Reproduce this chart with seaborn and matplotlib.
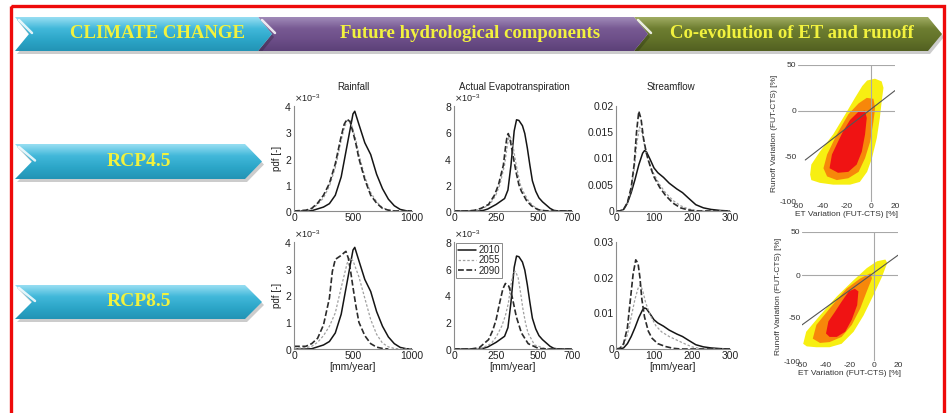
import numpy as np
import seaborn as sns
import matplotlib.pyplot as plt
from matplotlib.patches import Polygon, Rectangle
from matplotlib.colors import LinearSegmentedColormap
from matplotlib.ticker import FuncFormatter

W, H = 948, 413

# ---- pdf curves (x in mm/year, y = pdf) ----
# 2010 baseline is the same in both scenarios
rain_2010_x = [0, 100, 150, 200, 250, 300, 350, 400, 450, 475, 500, 515, 550, 600, 650, 700, 750, 800, 850, 900, 950, 1000]
rain_2010_y = [0, 0, 0.00001, 0.00008, 0.00015, 0.00028, 0.0006, 0.0013, 0.0025, 0.0031, 0.0037, 0.0038, 0.0033,
               0.0026, 0.00215, 0.0014, 0.00085, 0.00045, 0.0002, 0.00006, 0.00001, 0]
rain45_2055_x = [0, 100, 150, 200, 250, 300, 350, 400, 425, 450, 475, 500, 525, 550, 600, 650, 700, 750, 800, 850, 900, 1000]
rain45_2055_y = [0, 0.00002, 0.00008, 0.00025, 0.0005, 0.00095, 0.00165, 0.0027, 0.00315, 0.00345, 0.00345, 0.0031,
                 0.0027, 0.00215, 0.0013, 0.0007, 0.00035, 0.00012, 0.00004, 0.00001, 0, 0]
rain45_2090_x = [0, 100, 150, 200, 250, 300, 350, 400, 425, 450, 475, 500, 525, 550, 600, 650, 700, 750, 800, 850, 900, 1000]
rain45_2090_y = [0, 0.00003, 0.0001, 0.0003, 0.0006, 0.00105, 0.0018, 0.00285, 0.0033, 0.0035, 0.0034, 0.003,
                 0.00255, 0.002, 0.0012, 0.0006, 0.0003, 0.0001, 0.00003, 0, 0, 0]
rain85_2055_x = [0, 100, 150, 200, 250, 300, 350, 400, 450, 475, 500, 525, 550, 600, 650, 700, 750, 800, 850, 900, 1000]
rain85_2055_y = [0.00002, 0.00005, 0.0001, 0.00025, 0.0005, 0.00085, 0.00135, 0.0023, 0.0032, 0.0034, 0.0033, 0.003,
                 0.0027, 0.0019, 0.0011, 0.00055, 0.00022, 0.00008, 0.00002, 0, 0]
rain85_2090_x = [0, 50, 100, 150, 200, 250, 300, 325, 350, 400, 425, 440, 460, 480, 500, 525, 550, 600, 650, 700, 750, 800]
rain85_2090_y = [0.0001, 0.0001, 0.0001, 0.0002, 0.0004, 0.0009, 0.0019, 0.0029, 0.00335, 0.0035, 0.0036, 0.00365,
                 0.0034, 0.0029, 0.0023, 0.0016, 0.001, 0.0005, 0.0002, 0.00007, 0.00002, 0]

aet_2010_x = [0, 150, 175, 200, 250, 300, 320, 338, 357, 371, 385, 406, 420, 435, 450, 465, 485, 504, 525, 543, 570, 592, 620, 700]
aet_2010_y = [0, 0, 0.00005, 0.00015, 0.0005, 0.00095, 0.0016, 0.0035, 0.0061, 0.00695, 0.0069, 0.0065, 0.0059,
              0.0048, 0.0035, 0.0023, 0.0015, 0.001, 0.0007, 0.0005, 0.0002, 0.00005, 0, 0]
aet45_2055_x = [0, 90, 130, 170, 213, 248, 272, 300, 313, 323, 332, 342, 352, 365, 380, 394, 410, 440, 468, 505, 545, 600, 700]
aet45_2055_y = [0, 0, 0.00005, 0.0002, 0.0005, 0.0012, 0.002, 0.0035, 0.0047, 0.0055, 0.0057, 0.0054, 0.0048,
                0.0038, 0.0028, 0.002, 0.0015, 0.0008, 0.0004, 0.0001, 0.00002, 0, 0]
aet45_2090_x = [0, 80, 120, 160, 205, 240, 264, 293, 305, 315, 322, 332, 342, 356, 371, 385, 400, 430, 459, 498, 540, 600, 700]
aet45_2090_y = [0, 0, 0.00005, 0.0002, 0.0005, 0.0012, 0.002, 0.0035, 0.0048, 0.0057, 0.0059, 0.0055, 0.0048,
                0.0038, 0.0028, 0.002, 0.0015, 0.0008, 0.0004, 0.0001, 0.00002, 0, 0]
aet85_2055_x = [0, 100, 166, 220, 250, 283, 305, 322, 338, 351, 365, 381, 395, 410, 425, 439, 478, 537, 580, 700]
aet85_2055_y = [0, 0, 0.00007, 0.0004, 0.0009, 0.0017, 0.0025, 0.0034, 0.0048, 0.0057, 0.0058, 0.0053, 0.0042,
                0.0029, 0.0019, 0.0012, 0.0003, 0.00005, 0, 0]
aet85_2090_x = [0, 50, 100, 150, 205, 230, 250, 270, 290, 305, 325, 345, 370, 400, 440, 500, 550, 700]
aet85_2090_y = [0, 0, 0, 0.0001, 0.0007, 0.0014, 0.0022, 0.0034, 0.0045, 0.0049, 0.0047, 0.0039, 0.0024, 0.0012,
                0.0004, 0.00005, 0, 0]

flow_2010_x = [0, 10, 20, 30, 40, 50, 60, 70, 75, 80, 90, 100, 110, 125, 140, 160, 175, 190, 210, 230, 250, 275, 300]
flow_2010_y = [0, 0, 0.0003, 0.0015, 0.0035, 0.006, 0.0088, 0.011, 0.0115, 0.0113, 0.0098, 0.0082, 0.0073, 0.0064,
               0.0053, 0.0042, 0.0035, 0.0025, 0.0012, 0.0006, 0.0003, 0.0001, 0]
flow45_2055_x = [0, 10, 20, 30, 40, 48, 55, 62, 68, 75, 85, 100, 115, 130, 150, 170, 190, 210, 230, 300]
flow45_2055_y = [0, 0, 0.0003, 0.0015, 0.004, 0.008, 0.013, 0.016, 0.015, 0.0125, 0.0095, 0.007, 0.005, 0.0035,
                 0.002, 0.001, 0.0004, 0.0001, 0, 0]
flow45_2090_x = [0, 10, 20, 30, 40, 48, 54, 60, 66, 72, 80, 90, 100, 115, 130, 150, 170, 190, 210, 300]
flow45_2090_y = [0, 0, 0.0003, 0.0016, 0.0045, 0.009, 0.015, 0.019, 0.0175, 0.014, 0.011, 0.0085, 0.0065, 0.0045,
                 0.003, 0.0015, 0.0006, 0.0002, 0, 0]
flow85_2055_x = [0, 10, 20, 30, 40, 50, 58, 64, 70, 78, 90, 105, 120, 140, 160, 180, 200, 220, 240, 300]
flow85_2055_y = [0, 0.0002, 0.0012, 0.004, 0.009, 0.014, 0.017, 0.018, 0.0165, 0.013, 0.0095, 0.0065, 0.0048,
                 0.0035, 0.0025, 0.0015, 0.0006, 0.0002, 0, 0]
flow85_2090_x = [0, 10, 20, 30, 38, 45, 52, 58, 63, 68, 75, 85, 95, 110, 130, 150, 170, 300]
flow85_2090_y = [0, 0.0002, 0.0015, 0.006, 0.014, 0.021, 0.025, 0.024, 0.02, 0.014, 0.009, 0.005, 0.003, 0.0015,
                 0.0007, 0.0002, 0, 0]

years = ['2010', '2055', '2090']

# ---- ET / runoff density regions (contour outlines, %) ----
yellow45_et = [-50, -49, -42, -31, -21, -13, -7, -3, 3.5, 9, 10.5, 9, 7.5, 5, 1, -3, -9, -17, -31, -42, -49]
yellow45_ro = [-70, -59, -45, -26, -4, 14, 27, 33, 35, 32, 25, 10, -8, -30, -52, -67, -78, -81, -81, -79, -76]
orange45_et = [-39, -36, -28, -18.5, -10, -3.3, 2.2, 3.6, 2.2, -0.5, -4.7, -10, -18.5, -28, -36]
orange45_ro = [-63, -48, -26, -4, 8, 14, 13, 3, -12, -34, -52, -67, -74, -76, -72]
red45_et = [-34, -32, -27, -23, -17, -10, -4.7, -3.3, -4.7, -7.4, -11.6, -18.5, -27]
red45_ro = [-63, -48, -34, -23, -10, -1, 0, -8, -26, -45, -59, -67, -68]
trend45_et = [-54, 20]
trend45_ro = [-54, 22]

yellow85_et = [-59, -56.5, -45, -31, -17, -6, 2.5, 9.5, 11, 6.7, -0.3, -8.7, -17, -27, -37, -48, -56]
yellow85_ro = [-80, -66, -47, -25, -6, 8, 16, 18, 14, -2, -23, -47, -66, -80, -84, -84, -83]
orange85_et = [-51, -48, -37, -23, -11.5, -3, -1.7, -6, -11.5, -18.5, -27, -37, -45]
orange85_ro = [-74, -58, -39, -16, -4, 2, -4, -19, -39, -58, -72, -78, -79]
red85_et = [-40, -38, -32.6, -27, -21, -16, -13, -14, -18.5, -24, -31, -37]
red85_ro = [-68, -54, -43, -31, -19, -16, -19, -35, -52, -66, -72, -72]
trend85_et = [-60, 20]
trend85_ro = [-58, 23]

sns.set_theme(style="white")
plt.rcParams['font.family'] = ['Liberation Sans', 'DejaVu Sans']
plt.rcParams['axes.unicode_minus'] = False

fig = plt.figure(figsize=(W / 100, H / 100), dpi=100)


def add_px(x0, y0, x1, y1):
    # axes from pixel box (top-left origin)
    return fig.add_axes([x0 / W, 1 - y1 / H, (x1 - x0) / W, (y1 - y0) / H])


# background layer for banners / arrows / frame / titles
bg = add_px(0, 0, W, H)
bg.set_autoscale_on(False)
bg.set_xlim(0, W)
bg.set_ylim(H, 0)
bg.axis('off')


def chevron(x0, x1, y0, y1, d, colors, z):
    ym = (y0 + y1) / 2
    pts = [(x0, y0), (x1, y0), (x1 + d, ym), (x1, y1), (x0, y1), (x0 + d, ym)]
    bg.add_patch(Polygon([(x + 2, y + 3) for x, y in pts], closed=True, fc='black', ec='none', alpha=0.2,
                         zorder=z))
    poly = Polygon(pts, closed=True, fc='none', ec='none', zorder=z + 0.1)
    bg.add_patch(poly)
    cmap = LinearSegmentedColormap.from_list('grad', colors)
    grad = np.linspace(0, 1, 64).reshape(-1, 1)
    im = bg.imshow(grad, cmap=cmap, extent=(x0, x1 + d, y1, y0), aspect='auto', interpolation='bilinear',
                   zorder=z + 0.2)
    im.set_clip_path(poly)
    # glossy notch highlight
    bg.plot([x0 + 4, x0 + d + 3], [y0 + 3, ym - 1], color='white', lw=1.8, alpha=0.85, solid_capstyle='round',
            zorder=z + 0.3)


cyan = ['#97def2', '#42b8da', '#2ca6c8', '#2394b5']
purple = ['#a08ab8', '#785a93', '#6c4e88', '#5c4178']
olive = ['#a0ac62', '#6e7e31', '#627229', '#526021']

chevron(634, 928, 17, 51, 14, olive, 1)
chevron(258, 634, 17, 51, 14, purple, 2)
chevron(15, 258, 17, 51, 14, cyan, 3)

head_kw = dict(color='#f2f23e', fontsize=13.5, fontweight='bold', family='Liberation Serif', ha='center',
               va='center', zorder=10)
bg.text(158, 34, 'CLIMATE CHANGE', **head_kw)
bg.text(470, 34, 'Future hydrological components', **head_kw)
bg.text(792, 34, 'Co-evolution of ET and runoff', **head_kw)

chevron(15, 245, 144, 179, 17, cyan, 4)
chevron(15, 245, 285, 319, 17, cyan, 5)
bg.text(139, 161, 'RCP4.5', **{**head_kw, 'fontsize': 14})
bg.text(139, 301, 'RCP8.5', **{**head_kw, 'fontsize': 14})

bg.add_patch(Rectangle((11, 6), 933, 430, fill=False, ec='#ee0a0a', lw=2.4, zorder=9))

title_kw = dict(fontsize=7, color='#222222', ha='center', va='center')
bg.text(353, 87, 'Rainfall', **title_kw)
bg.text(514, 87, 'Actual Evapotranspiration', **title_kw)
bg.text(671, 87, 'Streamflow', **title_kw)

bg.set_xlim(0, W)
bg.set_ylim(H, 0)

styles = {
    '2010': dict(color='#151515', linewidth=1.1, linestyle='-'),
    '2055': dict(color='#a0a0a0', linewidth=0.9, linestyle=(0, (2, 1.5))),
    '2090': dict(color='#2b2b2b', linewidth=1.2, linestyle=(0, (3.5, 1.5))),
}


def pdf_axes(box, xlim, xticks, ylim, yticks, sci):
    ax = add_px(*box)
    ax.set_facecolor('none')
    ax.set_xlim(xlim)
    ax.set_ylim(ylim)
    ax.set_xticks(xticks)
    ax.set_yticks(yticks)
    for s in ['top', 'right']:
        ax.spines[s].set_visible(False)
    for s in ['left', 'bottom']:
        ax.spines[s].set_color('#8c8c8c')
        ax.spines[s].set_linewidth(0.8)
    ax.tick_params(length=0, labelsize=7.5, labelcolor='#222222', pad=1.5)
    if sci:
        ax.ticklabel_format(axis='y', style='sci', scilimits=(0, 0), useMathText=True)
        ax.yaxis.get_offset_text().set_fontsize(6.5)
        ax.yaxis.get_offset_text().set_color('#222222')
    else:
        ax.yaxis.set_major_formatter(FuncFormatter(lambda v, p: f'{v:g}'))
    ax.set_xlabel('')
    ax.set_ylabel('')
    return ax


def draw(ax, series, legend=False):
    for yr, (xs, ys) in zip(years, series):
        sns.lineplot(x=xs, y=ys, ax=ax, estimator=None, sort=False, label=yr if legend else None, **styles[yr])
    if ax.get_legend() is not None:
        ax.get_legend().remove()


rows = [
    dict(top=106, bot=211,
         rain=[(rain_2010_x, rain_2010_y), (rain45_2055_x, rain45_2055_y), (rain45_2090_x, rain45_2090_y)],
         aet=[(aet_2010_x, aet_2010_y), (aet45_2055_x, aet45_2055_y), (aet45_2090_x, aet45_2090_y)],
         flow=[(flow_2010_x, flow_2010_y), (flow45_2055_x, flow45_2055_y), (flow45_2090_x, flow45_2090_y)],
         flow_ylim=(0, 0.02), flow_yticks=[0, 0.005, 0.01, 0.015, 0.02]),
    dict(top=242, bot=349,
         rain=[(rain_2010_x, rain_2010_y), (rain85_2055_x, rain85_2055_y), (rain85_2090_x, rain85_2090_y)],
         aet=[(aet_2010_x, aet_2010_y), (aet85_2055_x, aet85_2055_y), (aet85_2090_x, aet85_2090_y)],
         flow=[(flow_2010_x, flow_2010_y), (flow85_2055_x, flow85_2055_y), (flow85_2090_x, flow85_2090_y)],
         flow_ylim=(0, 0.03), flow_yticks=[0, 0.01, 0.02, 0.03]),
]

for i, r in enumerate(rows):
    ax_r = pdf_axes((294, r['top'], 412, r['bot']), (0, 1000), [0, 500, 1000], (0, 0.004),
                    [0, 0.001, 0.002, 0.003, 0.004], True)
    draw(ax_r, r['rain'])
    ax_r.set_ylabel('pdf [-]', fontsize=7, labelpad=2, color='#222222')

    ax_a = pdf_axes((454, r['top'], 572, r['bot']), (0, 700), [0, 250, 500, 700], (0, 0.008),
                    [0, 0.002, 0.004, 0.006, 0.008], True)
    draw(ax_a, r['aet'], legend=(i == 1))

    ax_f = pdf_axes((616, r['top'], 730, r['bot']), (0, 300), [0, 100, 200, 300], r['flow_ylim'],
                    r['flow_yticks'], False)
    draw(ax_f, r['flow'])

    if i == 1:
        for ax in (ax_r, ax_a, ax_f):
            ax.set_xlabel('[mm/year]', fontsize=7.5, labelpad=0.5, color='#222222')
        leg = ax_a.legend(loc='upper left', bbox_to_anchor=(0.01, 1.0), fontsize=7, frameon=True, fancybox=False,
                          edgecolor='#777777', framealpha=1, borderpad=0.2, labelspacing=0.05,
                          handlelength=1.8, handletextpad=0.3, borderaxespad=0.1)
        leg.get_frame().set_linewidth(0.6)

# ---- co-evolution panels ----
scatter_sets = [
    dict(box=(798, 65, 895, 202),
         regions=[(yellow45_et, yellow45_ro, '#f7ef12'), (orange45_et, orange45_ro, '#f7870a'),
                  (red45_et, red45_ro, '#f01313')],
         trend=(trend45_et, trend45_ro)),
    dict(box=(802, 232, 898, 361),
         regions=[(yellow85_et, yellow85_ro, '#f7ef12'), (orange85_et, orange85_ro, '#f7870a'),
                  (red85_et, red85_ro, '#f01313')],
         trend=(trend85_et, trend85_ro)),
]

for s in scatter_sets:
    ax = add_px(*s['box'])
    ax.set_facecolor('none')
    for et, ro, col in s['regions']:
        ax.fill(et, ro, color=col, lw=0, zorder=1)
    ax.axhline(50, color='#a8a8a8', lw=0.8, zorder=2)
    ax.axhline(0, color='#a8a8a8', lw=0.8, zorder=2)
    ax.axvline(0, color='#a8a8a8', lw=0.8, zorder=2)
    sns.lineplot(x=s['trend'][0], y=s['trend'][1], ax=ax, estimator=None, sort=False, color='#555555',
                 linewidth=0.8, zorder=3)
    ax.set_xlim(-60, 20)
    ax.set_ylim(-100, 50)
    ax.set_xticks([-60, -40, -20, 0, 20])
    ax.set_yticks([-100, -50, 0, 50])
    for sp in ax.spines.values():
        sp.set_visible(False)
    ax.tick_params(length=0, labelsize=6, labelcolor='#333333', pad=1)
    ax.set_xlabel('ET Variation (FUT-CTS) [%]', fontsize=6, labelpad=0.5, color='#333333')
    ax.set_ylabel('Runoff Variation (FUT-CTS) [%]', fontsize=6, labelpad=1, color='#333333')

fig.savefig('out.png', dpi=100)
